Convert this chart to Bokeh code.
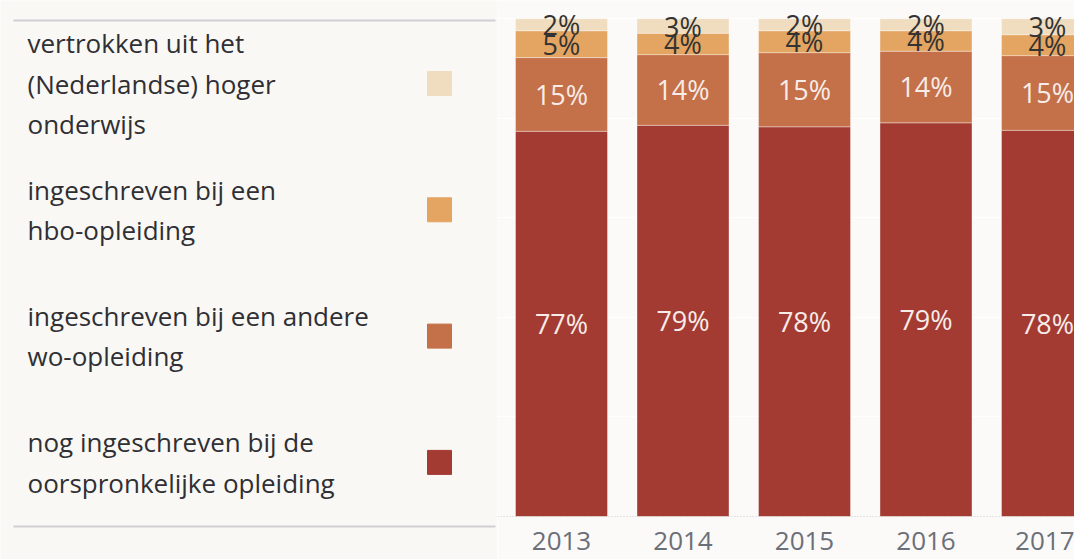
from bokeh.plotting import figure
from bokeh.layouts import row
from bokeh.models import Range1d, Span, ColumnDataSource, FixedTicker
from bokeh.core.properties import value
from bokeh.embed import file_html
from bokeh.resources import INLINE

# ---------------- data ----------------
years = [2013, 2014, 2015, 2016, 2017]
year_labels = ["2013", "2014", "2015", "2016", "2017"]

# stacked bottom -> top
nog_oorspronkelijk = [77.4, 78.6, 78.3, 79.1, 77.6]
andere_wo = [14.8, 14.2, 14.9, 14.4, 15.0]
hbo = [5.4, 4.3, 4.4, 4.1, 4.2]
vertrokken = [2.4, 2.9, 2.4, 2.4, 3.2]

series_keys = ["nog", "wo", "hbo", "vertrokken"]
series_values = [nog_oorspronkelijk, andere_wo, hbo, vertrokken]
series_colors = ["#a33b33", "#c47048", "#e3a561", "#f0dcbe"]
label_colors = ["#f7ece8", "#f7ece8", "#333333", "#333333"]

legend_labels = [
    "vertrokken uit het\n(Nederlandse) hoger\nonderwijs",
    "ingeschreven bij een\nhbo-opleiding",
    "ingeschreven bij een andere\nwo-opleiding",
    "nog ingeschreven bij de\noorspronkelijke opleiding",
]
legend_colors = ["#f0dcbe", "#e3a561", "#c47048", "#a33b33"]

FONT = "Open Sans"
BG_CHART = "#fbfaf8"
BG_LEGEND = "#f9f8f5"

# ---------------- chart figure ----------------
frame_w = 577
frame_h = 516
top_gap = 18.3          # px between frame top and 100%
px_per_year = 121.5
first_center_px = 64
bar_w = 0.757

x_start = years[0] - first_center_px / px_per_year
x_end = x_start + frame_w / px_per_year
y_end = 100 * frame_h / (frame_h - top_gap)

p = figure(frame_width=frame_w, frame_height=frame_h,
           x_range=Range1d(x_start, x_end), y_range=Range1d(0, y_end),
           toolbar_location=None, output_backend="svg",
           y_axis_location=None, min_border_left=0, min_border_right=0,
           min_border_top=0, min_border_bottom=43, outline_line_color=None)
p.background_fill_color = BG_CHART
p.border_fill_color = BG_CHART

data = {"year": years}
for k, v in zip(series_keys, series_values):
    data[k] = v
src = ColumnDataSource(data)
p.vbar_stack(series_keys, x="year", width=bar_w, source=src,
             color=series_colors, line_color="#ffffff", line_alpha=0.35,
             line_width=1)

# value labels
lx, ly, lt, lc = [], [], [], []
for i, yr in enumerate(years):
    cum = 0
    for vals, col in zip(series_values, label_colors):
        v = vals[i]
        lx.append(yr)
        ly.append(cum + v / 2)
        lt.append(f"{round(v)}%")
        lc.append(col)
        cum += v
p.text(x="x", y="y", text="t", text_color="c",
       source=ColumnDataSource(dict(x=lx, y=ly, t=lt, c=lc)),
       text_font=value(FONT), text_font_size=value("27px"),
       text_align="center", text_baseline="middle")

p.xgrid.visible = False
p.ygrid.ticker = FixedTicker(ticks=[20, 40, 60, 80, 100])
p.ygrid.grid_line_color = "#ffffff"
p.ygrid.grid_line_width = 1
p.ygrid.level = "underlay"

p.add_layout(Span(location=0, dimension="width", line_color="#9a9a9a",
                  line_dash="1 2", line_width=1))

ax = p.xaxis[0]
ax.ticker = FixedTicker(ticks=years)
ax.major_label_overrides = {y: l for y, l in zip(years, year_labels)}
ax.axis_line_color = None
ax.major_tick_line_color = None
ax.minor_tick_line_color = None
ax.major_tick_out = 0
ax.major_label_standoff = 15
ax.major_label_text_font = FONT
ax.major_label_text_font_size = "26px"
ax.major_label_text_color = "#6b6f78"

# ---------------- legend figure ----------------
LW, LH = 497, 559
lg = figure(frame_width=LW, frame_height=LH,
            x_range=Range1d(0, LW), y_range=Range1d(LH, 0),
            toolbar_location=None, output_backend="svg",
            x_axis_location=None, y_axis_location=None,
            min_border_left=0, min_border_right=0,
            min_border_top=0, min_border_bottom=0, outline_line_color=None)
lg.grid.visible = False
lg.background_fill_color = BG_LEGEND
lg.border_fill_color = BG_LEGEND

lg.segment(x0=[13, 13], y0=[20, 526], x1=[495, 495], y1=[20, 526],
           line_color="#cfcfd4", line_width=2)

item_y0, item_step, line_h = 83, 126.3, 40.5
tx, ty, tt = [], [], []
sy = []
for i, lab in enumerate(legend_labels):
    cy = item_y0 + i * item_step
    sy.append(cy)
    lines = lab.split("\n")
    n = len(lines)
    for j, ln in enumerate(lines):
        tx.append(27)
        ty.append(cy + (j - (n - 1) / 2) * line_h)
        tt.append(ln)
lg.text(x=tx, y=ty, text=tt, text_font=value(FONT), text_font_size=value("26px"),
        text_color="#2f2f34", text_baseline="middle", text_align="left")
lg.rect(x=[439] * 4, y=sy, width=24, height=24, color=legend_colors)

layout = row(lg, p, spacing=0)
open("out.html", "w").write(file_html(layout, INLINE))
